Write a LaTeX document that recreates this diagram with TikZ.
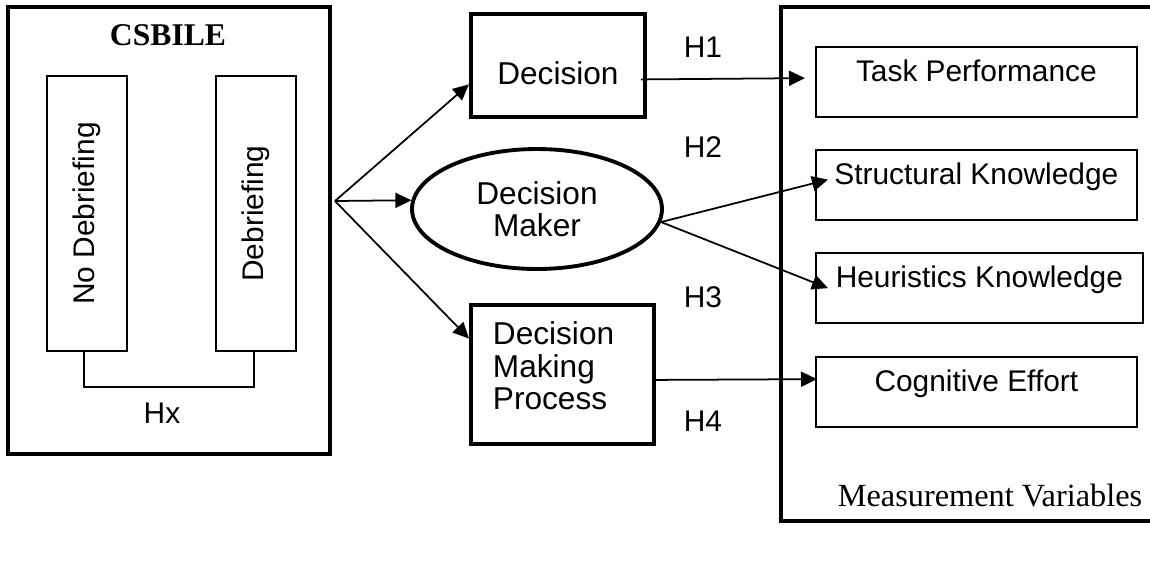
\documentclass[tikz,border=0pt]{standalone}
\usepackage{fontspec}
\setmainfont{Liberation Sans}
\newfontfamily\timesfont{Liberation Serif}
\usetikzlibrary{arrows.meta,shapes.geometric}

\begin{document}
\begin{tikzpicture}[x=0.02cm,y=-0.02cm]
\tikzstyle{arrow}=[line width=1pt,-{Triangle[length=.32cm,width=.3cm]}]
\tikzstyle{thinbox}=[draw,line width=1pt,inner sep=0pt]
\tikzstyle{thickbox}=[draw,line width=2.2pt,inner sep=0pt]
\tikzstyle{every node}=[font=\fontsize{17}{18.5}\selectfont]
\tikzstyle{big}=[font=\fontsize{18}{18.5}\selectfont]
\tikzstyle{varbox}=[thinbox,anchor=north west,minimum width=6.42cm,
  text height=.69cm,text depth=.72cm]

\useasboundingbox (0,0) rectangle (1150,583);

%left frame with the two groups
\draw[line width=2.4pt] (8,7) rectangle (330,454);
\node[font=\timesfont\bfseries\fontsize{18}{19}\selectfont] (csbile) at (168,35) {CSBILE};
\node[thinbox,rotate=90,minimum width=5.5cm,minimum height=1.6cm] (nodeb) at (87,213.5) {No Debriefing};
\node[thinbox,rotate=90,minimum width=5.5cm,minimum height=1.6cm] (deb) at (256,213.5) {Debriefing};
\draw[line width=1pt] ([xshift=-.06cm]nodeb.west) -- ++(0,35) -| ([xshift=-.04cm]deb.west);
\node (hx) at (162,413) {Hx};

%middle column
\node[thickbox,big,anchor=north west,minimum width=3.48cm,text height=1.42cm,
  text depth=.64cm] (dec) at (469,12) {Decision};
\node[draw,ellipse,big,line width=2.2pt,inner sep=0pt,minimum width=5cm,
  minimum height=2.4cm,align=center] (dm) at (537,209) {Decision\\Maker};
\node[thickbox,big,anchor=north west,text height=.8cm,text depth=1.98cm,
  inner xsep=.44cm] (dmp) at (469,303) {\parbox[t]{2.78cm}{Decision\\Making\\Process}};

%right frame
\draw[line width=2.2pt] (1150,7) -- (781,7) -- (781,521) -- (1150,521);
\node[font=\timesfont\fontsize{18.4}{19}\selectfont] (mv) at (990,496) {Measurement Variables};
\node[varbox] (task) at (815,46) {Task Performance};
\node[varbox] (struct) at (815,149) {Structural Knowledge};
\node[varbox,minimum width=6.54cm] (heur) at (815,252) {Heuristics Knowledge};
\node[varbox] (cog) at (815,356) {Cognitive Effort};

%fan of arrows
\coordinate (fan) at (335,201);
\draw[arrow] (fan) -- (dec.192);
\draw[arrow] (fan) -- (dm.176);
\draw[arrow] (fan) -- (dmp.159);

%hypotheses
\draw[arrow] ([xshift=-.12cm,yshift=-.28cm]dec.east) -- ([xshift=-.2cm,yshift=.08cm]task.west);
\draw[arrow] (dm.-6) -- ([xshift=.26cm,yshift=.11cm]struct.west);
\draw[arrow] (dm.-6) -- ([xshift=.26cm]heur.west);
\draw[arrow] ([yshift=-.11cm]dmp.east) -- ([xshift=.04cm,yshift=.26cm]cog.west);
\node (h1) at (703,47) {H1};
\node (h2) at (703,147) {H2};
\node (h3) at (703,297) {H3};
\node (h4) at (703,421) {H4};

\end{tikzpicture}
\end{document}
